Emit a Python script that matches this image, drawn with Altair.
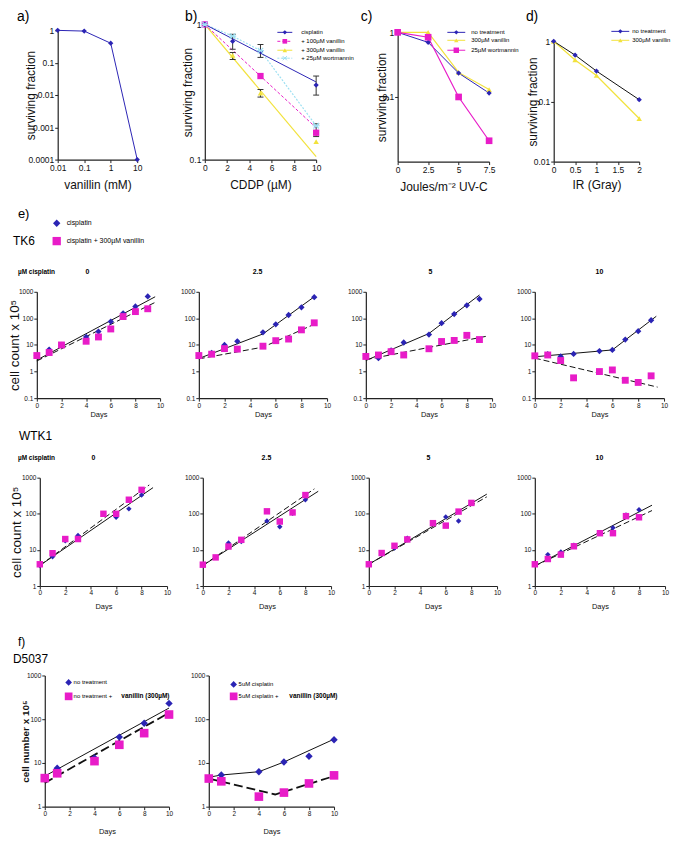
import altair as alt
import pandas as pd

FONT = "Liberation Sans"
NAVY = "#2b24b4"
MAGENTA = "#e81cc8"
YELLOW = "#f2e23c"
CYAN = "#9ee0f2"
BLACK = "#111111"

# ---------------- data ----------------
# a) vanillin toxicity
A_X = [0.01, 0.1, 1, 10]
A_Y = [1.0, 0.95, 0.4, 0.0001]

# b) CDDP survival
B_DOSE = [0, 2.5, 5, 10]
B_CIS = [1.0, 0.75, 0.63, 0.356]
B_CIS_LO = [0.655, 0.57, 0.30]
B_CIS_HI = [0.845, 0.71, 0.415]
B_V100_X = [0, 5, 10]
B_V100 = [1.0, 0.415, 0.158]
B_V300 = [1.0, 0.59, 0.31, 0.136]
B_V300_LO = [0.55, 0.29]
B_V300_HI = [0.62, 0.33]
B_WORT = [1.0, 0.82, 0.64, 0.178]
B_WORT_LO = [0.148]
B_WORT_HI = [0.184]
B_FIT_X = [0, 10]
B_CIS_FIT = [1.0, 0.375]
B_V100_FIT = [1.0, 0.172]
B_V300_FIT = [1.0, 0.105]

# c) UV-C survival
C_DOSE = [0, 2.5, 5, 7.5]
C_NT = [1.0, 0.70, 0.234, 0.115]
C_VAN = [1.0, 1.0, 0.24, 0.13]
C_WORT = [1.0, 0.84, 0.10, 0.021]

# d) IR survival
D_DOSE = [0, 0.5, 1, 2]
D_NT = [1.0, 0.59, 0.32, 0.107]
D_VAN = [1.0, 0.49, 0.27, 0.052]

# e) TK6 growth (cell count x 1e5)
T0_DX = [0, 1, 2, 4, 5, 6, 7, 8, 9]
T0_DY = [4, 6.7, 10, 20, 32, 76, 155, 280, 670]
T0_SX = [0, 1, 2, 4, 5, 6, 7, 8, 9]
T0_SY = [4, 5.2, 10, 13.8, 20, 40, 117, 180, 230]
T0_FX = [0, 9.6]
T0_FS = [2.7, 650]
T0_FD = [2.5, 400]

T25_DX = [0, 1, 2, 3, 5, 6, 7, 8, 9]
T25_DY = [4, 5, 10, 13.7, 30, 60, 134, 260, 630]
T25_SX = [0, 1, 2, 3, 5, 6, 7, 8, 9]
T25_SY = [4, 4.5, 7.3, 7, 9, 14.5, 16.7, 37, 68]
T25_FX = [0, 5, 9]
T25_FS = [3.1, 26, 650]
T25_FD = [3.0, 8.3, 60]

T5_DX = [0, 1, 2, 3, 5, 6, 7, 8, 9]
T5_DY = [4, 3.2, 6.3, 12.4, 24.5, 66, 145, 310, 535]
T5_SX = [0, 1, 2, 3, 5, 6, 7, 8, 9]
T5_SY = [3.7, 4.2, 5.6, 4.2, 7.2, 13.5, 14.8, 23, 16]
T5_FSX = [0, 5, 9]
T5_FS = [2.6, 27, 760]
T5_FDX = [0, 9.5]
T5_FD = [2.8, 21]

T10_DX = [0, 1, 2, 3, 5, 6, 7, 8, 9]
T10_DY = [3.9, 4.5, 3.7, 4.6, 5.9, 6.5, 16, 33, 85]
T10_SX = [0, 1, 2, 3, 5, 6, 7, 8, 9]
T10_SY = [3.9, 4.2, 2.6, 0.58, 1.0, 1.15, 0.47, 0.39, 0.69]
T10_FSX = [0, 6, 9.4]
T10_FS = [3.6, 6.5, 120]
T10_FDX = [0, 9.5]
T10_FD = [3.2, 0.26]

# e) WTK1 growth
W0_DX = [0, 1, 2, 3, 6, 7, 8]
W0_DY = [3.7, 6.5, 18, 25, 80, 137, 330]
W0_SX = [0, 1, 2, 3, 5, 6, 7, 8]
W0_SY = [4, 8.1, 20, 20, 100, 100, 245, 460]
W0_FSX = [0, 8.9]
W0_FS = [3.7, 530]
W0_FDX = [0, 8.6]
W0_FD = [3.7, 630]

W25_DX = [0, 1, 2, 3, 5, 6, 7, 8]
W25_DY = [3.9, 6.2, 15.5, 17, 63, 44, 104, 243]
W25_SX = [0, 1, 2, 3, 5, 6, 7, 8]
W25_SY = [3.9, 6.2, 12.4, 19, 117, 61, 109, 330]
W25_FSX = [0, 9]
W25_FS = [3.7, 420]
W25_FDX = [0, 8.7]
W25_FD = [3.7, 490]

W5_DX = [0, 1, 2, 3, 6, 7, 8]
W5_DY = [4, 7.8, 11.2, 21, 82, 63, 200]
W5_SX = [0, 1, 2, 3, 5, 6, 7, 8]
W5_SY = [4, 8.2, 13, 19.5, 55, 47, 115, 200]
W5_FX = [0, 9.2]
W5_FS = [4, 350]
W5_FD = [4, 295]

W10_DX = [0, 1, 2, 3, 5, 6, 7, 8]
W10_DY = [4, 7.4, 8.7, 13.4, 30, 41, 92, 129]
W10_SX = [0, 1, 2, 3, 5, 6, 7, 8]
W10_SY = [4, 5.6, 7.4, 12.6, 29, 29, 86, 80]
W10_FX = [0, 9]
W10_FS = [3.6, 173]
W10_FD = [3.6, 123]

# f) D5037 growth (cell number x 1e5)
F1_X = [0, 1, 4, 6, 8, 10]
F1_D = [4.5, 7.6, 13, 39, 81, 230]
F1_S = [4.5, 5.8, 11, 26, 48, 128]
F1_FX = [0, 10]
F1_FS = [5, 180]
F1_FD = [3.5, 140]

F2_X = [0, 1, 4, 6, 8, 10]
F2_D = [4.4, 5.3, 6.3, 10.5, 14.2, 34]
F2_S = [4.4, 3.8, 1.7, 2.1, 3.4, 5.2]
F2_FSX = [0, 1, 4, 6, 10]
F2_FS = [4.7, 5.3, 6.3, 10.5, 35]
F2_FDX = [0, 5.3, 10]
F2_FD = [4.4, 1.9, 5.0]

DAYS = [0, 2, 4, 6, 8, 10]
LOG_TK6 = [0.1, 1, 10, 100, 1000]
LOG_W = [1, 10, 100, 1000]

ONE = pd.DataFrame({"k": [0]})
LABEL = "'' + datum.value"


def xy(xs, ys):
    return pd.DataFrame({"x": xs, "y": ys})


def enc(H, xr, yr, xdom, ydom, xtype, ytype, xticks, yticks, xtitle, ytitle,
        lfs, xtfs, ytfs, xt_dy, yt_dx, ytw="normal"):
    xs = dict(type=xtype, domain=xdom, range=xr, nice=False)
    ys = dict(type=ytype, domain=ydom, range=yr, nice=False)
    if xtype == "linear":
        xs["zero"] = False
    if ytype == "linear":
        ys["zero"] = False
    X = alt.X("x:Q", scale=alt.Scale(**xs),
              axis=alt.Axis(values=xticks, labelExpr=LABEL, title=xtitle, offset=yr[0] - H,
                            labelFontSize=lfs, titleFontSize=xtfs, titleFontWeight="normal",
                            titleY=xt_dy, titleBaseline="middle", labelFlush=False,
                            labelOverlap=False, tickSize=3, labelPadding=1))
    Y = alt.Y("y:Q", scale=alt.Scale(**ys),
              axis=alt.Axis(values=yticks, labelExpr=LABEL, title=ytitle, offset=-xr[0],
                            labelFontSize=lfs, titleFontSize=ytfs, titleFontWeight=ytw,
                            titleX=yt_dx, titleY=(yr[0] + yr[1]) / 2, titleBaseline="middle",
                            titleAngle=270, labelFlush=False, labelOverlap=False,
                            tickSize=3, labelPadding=1))
    return X, Y


def line(xs, ys, color, width=1.0, dash=None):
    def f(X, Y):
        kw = dict(color=color, strokeWidth=width)
        if dash:
            kw["strokeDash"] = dash
        return alt.Chart(xy(xs, ys)).mark_line(**kw).encode(x=X, y=Y)
    return f


def pts(xs, ys, color, shape, size, filled=True, sw=1.0):
    def f(X, Y):
        return alt.Chart(xy(xs, ys)).mark_point(shape=shape, size=size, filled=filled,
                                                 color=color, opacity=1, strokeWidth=sw
                                                 ).encode(x=X, y=Y)
    return f


def ebar(xs, lo, hi, color):
    def f(X, Y):
        df = pd.DataFrame({"x": xs, "y": lo, "y2": hi})
        r = alt.Chart(df).mark_rule(color=color, strokeWidth=1).encode(x=X, y=Y, y2="y2:Q")
        t1 = alt.Chart(xy(xs, lo)).mark_tick(orient="horizontal", size=6, thickness=1,
                                             color=color, opacity=1).encode(x=X, y=Y)
        t2 = alt.Chart(xy(xs, hi)).mark_tick(orient="horizontal", size=6, thickness=1,
                                             color=color, opacity=1).encode(x=X, y=Y)
        return alt.layer(r, t1, t2)
    return f


def text(s, x, y, size, weight="normal", align="left"):
    return alt.Chart(ONE).mark_text(text=s, fontSize=size, fontWeight=weight, align=align,
                                    baseline="middle", font=FONT, color="black"
                                    ).encode(x=alt.value(x), y=alt.value(y))


def marker(x, y, shape, size, color, filled=True, sw=1.0):
    return alt.Chart(ONE).mark_point(shape=shape, size=size, filled=filled, color=color,
                                     opacity=1, strokeWidth=sw).encode(
        x=alt.value(x), y=alt.value(y))


def leg(x0, x1, xt, y, label, color, shape, size, fs, dash=None, filled=True, sw=1.0):
    kw = dict(color=color, strokeWidth=1)
    if dash:
        kw["strokeDash"] = dash
    return [alt.Chart(ONE).mark_rule(**kw).encode(
                x=alt.value(x0), x2=alt.value(x1), y=alt.value(y)),
            marker((x0 + x1) / 2, y, shape, size, color, filled, sw),
            text(label, xt, y, fs)]


def panel(W, H, X, Y, layers, annots):
    charts = [f(X, Y) for f in layers] + annots
    return alt.layer(*charts).properties(width=W, height=H)


ASTER = "M-1,-1L1,1M-1,1L1,-1M-1.3,0L1.3,0"

# ---------------- row 1 ----------------
H1 = 192
LF1 = 8.5
Xa, Ya = enc(H1, [49, 129], [150, 20], [0.01, 10], [0.0001, 1], "log", "log",
             A_X, [0.0001, 0.001, 0.01, 0.1, 1], "vanillin (mM)", "surviving fraction",
             LF1, 12, 12, 25, -27)
pa = panel(164, H1, Xa, Ya,
           [line(A_X, A_Y, NAVY, 1), pts(A_X, A_Y, NAVY, "diamond", 28)],
           [text("a)", 8, 7, 14)])

Xb, Yb = enc(H1, [33, 145], [150, 14], [0, 10], [0.1, 1], "linear", "log",
             [0, 2, 4, 6, 8, 10], [0.1, 1], "CDDP (µM)", "surviving fraction",
             LF1, 12, 12, 25, -17)
pb = panel(170, H1, Xb, Yb,
           [line(B_FIT_X, B_V300_FIT, YELLOW, 1.2),
            line(B_FIT_X, B_V100_FIT, MAGENTA, 1, [3, 2]),
            line(B_DOSE, B_WORT, CYAN, 1.2, [2, 1.5]),
            line(B_FIT_X, B_CIS_FIT, NAVY, 1),
            ebar(B_DOSE[1:], B_CIS_LO, B_CIS_HI, "#333333"),
            ebar([2.5, 5], B_V300_LO, B_V300_HI, "#333333"),
            ebar([10], B_WORT_LO, B_WORT_HI, "#333333"),
            pts(B_DOSE, B_V300, YELLOW, "triangle-up", 30),
            pts(B_V100_X, B_V100, MAGENTA, "square", 40),
            pts(B_DOSE, B_CIS, NAVY, "diamond", 28),
            pts(B_DOSE, B_WORT, CYAN, ASTER, 30, filled=False, sw=1.2)],
           [text("b)", 13, 7, 14)]
           + leg(106, 121, 130, 22, "cisplatin", NAVY, "diamond", 20, 6)
           + leg(106, 121, 130, 31, "+ 100µM vanillin", MAGENTA, "square", 22, 6, [3, 2])
           + leg(106, 121, 130, 40, "+ 300µM vanillin", YELLOW, "triangle-up", 20, 6)
           + leg(106, 121, 130, 48, "+ 25µM wortmannin", CYAN, ASTER, 18, 6, [2, 1.5], False))

Xc, Yc = enc(H1, [57, 149], [152, 22], [0, 7.5], [0.01, 1], "linear", "log",
             C_DOSE, [0.1, 1], "Joules/m⁻²  UV-C", "surviving fraction",
             LF1, 12, 12, 25, -16)
pc = panel(170, H1, Xc, Yc,
           [line(C_DOSE, C_VAN, YELLOW, 1.2), line(C_DOSE, C_NT, NAVY, 1),
            line(C_DOSE, C_WORT, MAGENTA, 1.2),
            pts(C_DOSE, C_VAN, YELLOW, "triangle-up", 30),
            pts(C_DOSE, C_NT, NAVY, "diamond", 28),
            pts(C_DOSE, C_WORT, MAGENTA, "square", 45)],
           [text("c)", 20, 7, 14)]
           + leg(107, 125, 131, 22, "no treatment", NAVY, "diamond", 20, 6)
           + leg(107, 125, 131, 30, "300µM vanillin", YELLOW, "triangle-up", 20, 6)
           + leg(107, 125, 131, 40, "25µM wortmannin", MAGENTA, "square", 30, 6))

Xd, Yd = enc(H1, [44, 130], [152, 31], [0, 2], [0.01, 1], "linear", "log",
             [0, 0.5, 1, 1.5, 2], [0.01, 0.1, 1], "IR (Gray)", "surviving fraction",
             LF1, 12, 12, 23, -21)
pdd = panel(159, H1, Xd, Yd,
            [line(D_DOSE, D_VAN, YELLOW, 1.2), line(D_DOSE, D_NT, BLACK, 1),
             pts(D_DOSE, D_VAN, YELLOW, "triangle-up", 30),
             pts(D_DOSE, D_NT, NAVY, "diamond", 28)],
            [text("d)", 16, 7, 14)]
            + leg(102, 120, 123, 21, "no treatment", NAVY, "diamond", 20, 6)
            + leg(102, 120, 123, 30, "300µM vanillin", YELLOW, "triangle-up", 20, 6))

row1 = alt.hconcat(pa, pb, pc, pdd, spacing=0, bounds="flush")

# ---------------- row 2 (TK6) ----------------
H2 = 228
YR2 = [198, 91]
DASH_E = [6, 3]


def growth(W, H, xr, yr, ydom, yticks, dx, dy, sx, sy, fsx, fs, fdx, fd, ytitle,
           annots, xt_dy, yt_dx, ytfs=13.5, lfs=6.5, ds=40, ss=48, dash=DASH_E,
           lw=1.0, dw=1.0, ytw="normal", xfs=7.5):
    X, Y = enc(H, xr, yr, [0, 10], ydom, "linear", "log", DAYS, yticks, "Days", ytitle,
               lfs, xfs, ytfs, xt_dy, yt_dx, ytw)
    return panel(W, H, X, Y,
                 [line(fsx, fs, BLACK, lw), line(fdx, fd, BLACK, dw, dash),
                  pts(dx, dy, NAVY, "diamond", ds), pts(sx, sy, MAGENTA, "square", ss)],
                 annots)


CT = "cell count x 10⁵"
t0 = growth(164, H2, [28, 152], YR2, [0.1, 1000], LOG_TK6, T0_DX, T0_DY, T0_SX, T0_SY,
            T0_FX, T0_FS, T0_FX, T0_FD, CT,
            [text("e)", 9, 13, 13), text("TK6", 4, 40, 12),
             marker(48, 22, "diamond", 55, NAVY), text("cisplatin", 58, 22, 7),
             marker(48, 40, "square", 70, MAGENTA),
             text("cisplatin + 300µM vanillin", 58, 40, 7),
             text("µM cisplatin", 9, 71, 6.5, "bold"),
             text("0", 79, 71, 7, "bold", "center")],
            16, -22)
t25 = growth(170, H2, [27, 156], YR2, [0.1, 1000], LOG_TK6, T25_DX, T25_DY, T25_SX, T25_SY,
             T25_FX, T25_FS, T25_FX, T25_FD, "",
             [text("2.5", 86, 71, 7, "bold", "center")], 16, -22)
t5 = growth(170, H2, [25, 152], YR2, [0.1, 1000], LOG_TK6, T5_DX, T5_DY, T5_SX, T5_SY,
            T5_FSX, T5_FS, T5_FDX, T5_FD, "",
            [text("5", 90, 71, 7, "bold", "center")], 16, -22)
t10 = growth(159, H2, [25, 155], YR2, [0.1, 1000], LOG_TK6, T10_DX, T10_DY, T10_SX, T10_SY,
             T10_FSX, T10_FS, T10_FDX, T10_FD, "",
             [text("10", 90, 71, 7, "bold", "center")], 16, -22)
row2 = alt.hconcat(t0, t25, t5, t10, spacing=0, bounds="flush")

# ---------------- row 3 (WTK1) ----------------
H3 = 200
YR3 = [159, 50]
w0 = growth(164, H3, [31, 159], YR3, [1, 1000], LOG_W, W0_DX, W0_DY, W0_SX, W0_SY,
            W0_FSX, W0_FS, W0_FDX, W0_FD, CT,
            [text("WTK1", 10, 8, 12), text("µM cisplatin", 9, 30, 6.5, "bold"),
             text("0", 85, 30, 7, "bold", "center")],
            21, -23, ds=30, ss=42)
w25 = growth(170, H3, [31, 160], YR3, [1, 1000], LOG_W, W25_DX, W25_DY, W25_SX, W25_SY,
             W25_FSX, W25_FS, W25_FDX, W25_FD, "",
             [text("2.5", 95, 30, 7, "bold", "center")], 21, -23, ds=30, ss=42)
w5 = growth(170, H3, [28, 157], YR3, [1, 1000], LOG_W, W5_DX, W5_DY, W5_SX, W5_SY,
            W5_FX, W5_FS, W5_FX, W5_FD, "",
            [text("5", 88, 30, 7, "bold", "center")], 21, -23, ds=30, ss=42)
w10 = growth(159, H3, [25, 156], YR3, [1, 1000], LOG_W, W10_DX, W10_DY, W10_SX, W10_SY,
             W10_FX, W10_FS, W10_FX, W10_FD, "",
             [text("10", 90, 30, 7, "bold", "center")], 21, -23, ds=30, ss=42)
row3 = alt.hconcat(w0, w25, w5, w10, spacing=0, bounds="flush")

# ---------------- row 4 (f, D5037) ----------------
H4 = 209
YR4 = [181, 49]
DASH_F = [9, 4]
f1 = growth(177, H4, [36, 161], YR4, [1, 1000], LOG_W, F1_X, F1_D, F1_X, F1_S,
            F1_FX, F1_FS, F1_FX, F1_FD, "cell number x 10⁵",
            [text("f)", 9, 15, 12), text("D5037", 4, 32, 12),
             marker(60, 56, "diamond", 45, NAVY), text("no treatment", 65, 56, 6),
             marker(60, 70, "square", 60, MAGENTA), text("no treatment +", 65, 70, 6),
             text("vanillin (300µM)", 113, 70, 6.5, "bold")],
            25, -19, ytfs=10, lfs=6.5, ds=55, ss=75, dash=DASH_F, lw=1.0, dw=1.8,
            ytw="bold", xfs=7.5)
f2 = growth(486, H4, [24, 150], YR4, [1, 1000], LOG_W, F2_X, F2_D, F2_X, F2_S,
            F2_FSX, F2_FS, F2_FDX, F2_FD, "",
            [marker(49, 58, "diamond", 45, NAVY), text("5uM cisplatin", 54, 58, 6),
             marker(49, 70, "square", 60, MAGENTA), text("5uM cisplatin +", 54, 70, 6),
             text("vanillin (300µM)", 105, 70, 6.5, "bold")],
            25, -19, ytfs=10, lfs=6.5, ds=55, ss=75, dash=DASH_F, lw=1.0, dw=1.8, xfs=7.5)
row4 = alt.hconcat(f1, f2, spacing=0, bounds="flush")

chart = alt.vconcat(row1, row2, row3, row4, spacing=0).properties(padding=0)
chart = chart.configure(font=FONT).configure_view(stroke=None).configure_axis(
    grid=False, domainColor="#222222", domainWidth=1.2, tickColor="#222222",
    labelColor="#111111", titleColor="#111111", labelFont=FONT, titleFont=FONT)

chart.save("out.html", embed_options={"renderer": "svg", "actions": False})
